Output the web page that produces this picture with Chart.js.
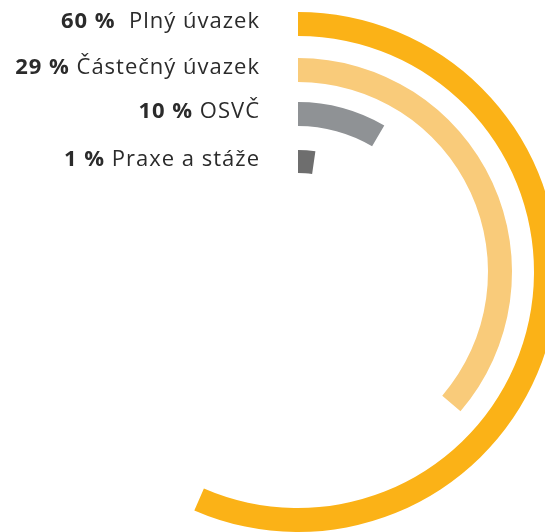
<!DOCTYPE html>
<html>
<head>
<meta charset="utf-8">
<script src="https://cdn.jsdelivr.net/npm/chart.js@4.4.1/dist/chart.umd.min.js"></script>
<style>
  html, body { margin: 0; padding: 0; background: #fff; overflow: hidden; width: 545px; height: 532px; }
  #wrap { position: absolute; left: 0; top: 0; }
</style>
</head>
<body>
<div id="wrap"><canvas id="jobChart" width="596" height="532"></canvas></div>
<script>
// category names and shares (as printed in the labels)
const categories = ["Plný úvazek", "Částečný úvazek", "OSVČ", "Praxe a stáže"];
const percents = [60, 29, 10, 1];
// sweep of each ring in degrees (from 12 o'clock, clockwise)
const arcDegrees = [203.5, 130.6, 30.5, 8.2];
const ringColors = ["#FBB217", "#F9CB7A", "#8F9295", "#6E6E6E"];

const ringWeight = 24;
const gapWeights = [22, 20, 24];

const datasets = [];
const ringIndex = [];

categories.forEach((name, i) => {
    ringIndex.push(datasets.length);
    datasets.push({
        label: name,
        data: [arcDegrees[i], 360 - arcDegrees[i]],
        backgroundColor: [ringColors[i], "rgba(0,0,0,0)"],
        borderWidth: 0,
        weight: i === 3 ? 23 : ringWeight
    });
    if (i < gapWeights.length) {
        datasets.push({
            label: "gap" + i,
            data: [360],
            backgroundColor: "rgba(0,0,0,0)",
            borderWidth: 0,
            weight: gapWeights[i]
        });
    }
});

// draw the "60 %  Plný úvazek" labels left of each ring start
const ringLabels = {
    id: "ringLabels",
    afterDatasetsDraw(chart) {
        const ctx = chart.ctx;
        ctx.save();
        ctx.fillStyle = "#2b2b2b";
        ctx.textBaseline = "alphabetic";
        ctx.textAlign = "right";
        ctx.letterSpacing = "1px";
        ringIndex.forEach((dsIdx, i) => {
            const arc = chart.getDatasetMeta(dsIdx).data[0];
            const y = arc.y - (arc.outerRadius + arc.innerRadius) / 2 + 4;
            const x = arc.x - 38;
            const rest = (i === 0 ? "  " : " ") + categories[i];
            ctx.font = "400 22px 'Open Sans'";
            ctx.fillText(rest, x, y);
            const w = ctx.measureText(rest).width;
            ctx.font = "700 22px 'Open Sans'";
            ctx.fillText(percents[i] + " %", x - w, y);
        });
        ctx.restore();
    }
};

new Chart(document.getElementById("jobChart"), {
    type: "doughnut",
    data: {
        labels: ["value", "rest"],
        datasets: datasets
    },
    options: {
        responsive: false,
        animation: false,
        devicePixelRatio: 1,
        events: [],
        rotation: 0,
        circumference: 360,
        cutout: 99,
        radius: 260,
        layout: {
            padding: { left: 38, right: 38, top: 12, bottom: 0 }
        },
        elements: {
            arc: { borderWidth: 0, hoverOffset: 0, offset: 0 }
        },
        plugins: {
            legend: { display: false },
            tooltip: { enabled: false }
        }
    },
    plugins: [ringLabels]
});
</script>
</body>
</html>
